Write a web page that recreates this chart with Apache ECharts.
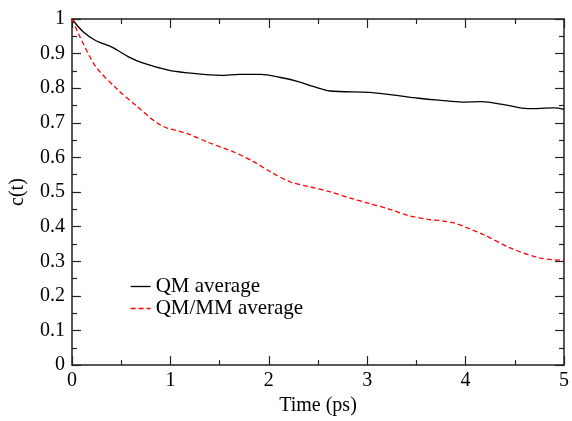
<!DOCTYPE html>
<html>
<head>
<meta charset="utf-8">
<script src="https://cdn.jsdelivr.net/npm/echarts@6/dist/echarts.min.js"></script>
<style>
  html, body { margin: 0; padding: 0; background: #fff; }
  #chart { width: 572px; height: 421px; }
</style>
</head>
<body>
<div id="chart"></div>
<script>
// c(t) values, pairs of [time (ps), c(t)]
var qmAverage = [
    [0, 1], [0.11, 0.964], [0.24, 0.938], [0.41, 0.918], [0.58, 0.89], [0.71, 0.874],
    [0.98, 0.852], [1.15, 0.845], [1.52, 0.837], [1.7, 0.84], [1.92, 0.84], [2.12, 0.831],
    [2.29, 0.82], [2.45, 0.805], [2.62, 0.792], [3.02, 0.788], [3.25, 0.781], [3.52, 0.771],
    [3.75, 0.765], [3.96, 0.76], [4.16, 0.761], [4.4, 0.752], [4.63, 0.741], [4.9, 0.743], [5, 0.739]
];
var qmmmAverage = [
    [0, 1], [0.08, 0.949], [0.24, 0.863], [0.45, 0.8], [0.65, 0.75], [0.91, 0.692],
    [1.18, 0.668], [1.38, 0.644], [1.65, 0.615], [1.85, 0.587], [2.02, 0.558], [2.22, 0.529],
    [2.42, 0.515], [2.62, 0.501], [2.82, 0.483], [3.02, 0.467], [3.22, 0.451], [3.42, 0.432],
    [3.62, 0.421], [3.76, 0.417], [3.89, 0.41], [4.03, 0.395], [4.19, 0.376], [4.46, 0.338],
    [4.76, 0.309], [5, 0.303]
];
var seriesNames = ['QM average', 'QM/MM average'];

var font = "'Liberation Serif', 'Times New Roman', serif";
var axisLine = { show: true, onZero: false, lineStyle: { color: '#222', width: 1.5 } };
var tick = { show: true, inside: true, length: 9, lineStyle: { color: '#222', width: 1.2 } };
var minor = { show: true, splitNumber: 2, length: 5, lineStyle: { color: '#222', width: 1.2 } };

var chart = echarts.init(document.getElementById('chart'));
chart.setOption({
    animation: false,
    backgroundColor: '#fff',
    grid: { left: 69, right: 5, top: 19, bottom: 53 },
    legend: {
        orient: 'vertical',
        left: 125,
        top: 271,
        itemWidth: 20,
        itemHeight: 12,
        itemGap: 1,
        data: seriesNames,
        itemStyle: { opacity: 0 },
        lineStyle: { width: 1.3 },
        textStyle: { fontFamily: font, fontSize: 21, color: '#000' }
    },
    xAxis: [{
        type: 'value', min: 0, max: 5, interval: 1,
        name: 'Time (ps)', nameLocation: 'middle', nameGap: 27,
        nameTextStyle: { fontFamily: font, fontSize: 20, color: '#000' },
        axisLine: axisLine, axisTick: tick, minorTick: minor,
        splitLine: { show: false },
        axisLabel: { margin: 6, fontFamily: font, fontSize: 20, color: '#000' }
    }, {
        type: 'value', min: 0, max: 5, interval: 1, position: 'top',
        axisLine: axisLine, axisTick: tick, minorTick: minor,
        splitLine: { show: false }, axisLabel: { show: false }
    }],
    yAxis: [{
        type: 'value', min: 0, max: 1, interval: 0.1,
        name: 'c(t)', nameLocation: 'middle', nameGap: 44,
        nameTextStyle: { fontFamily: font, fontSize: 20, color: '#000' },
        axisLine: axisLine, axisTick: tick, minorTick: minor,
        splitLine: { show: false },
        axisLabel: {
            margin: 7, fontFamily: font, fontSize: 20, color: '#000',
            formatter: function (v) { return String(+v.toFixed(1)); }
        }
    }, {
        type: 'value', min: 0, max: 1, interval: 0.1, position: 'right',
        axisLine: axisLine, axisTick: tick, minorTick: minor,
        splitLine: { show: false }, axisLabel: { show: false }
    }],
    series: [{
        name: seriesNames[0],
        type: 'line',
        data: qmAverage,
        smooth: 0.3,
        symbol: 'none',
        lineStyle: { color: '#000', width: 1.3 },
        itemStyle: { color: '#000' }
    }, {
        name: seriesNames[1],
        type: 'line',
        data: qmmmAverage,
        smooth: 0.3,
        symbol: 'none',
        lineStyle: { color: '#f00', width: 1.3, type: [5, 3] },
        itemStyle: { color: '#f00' }
    }]
});
</script>
</body>
</html>
